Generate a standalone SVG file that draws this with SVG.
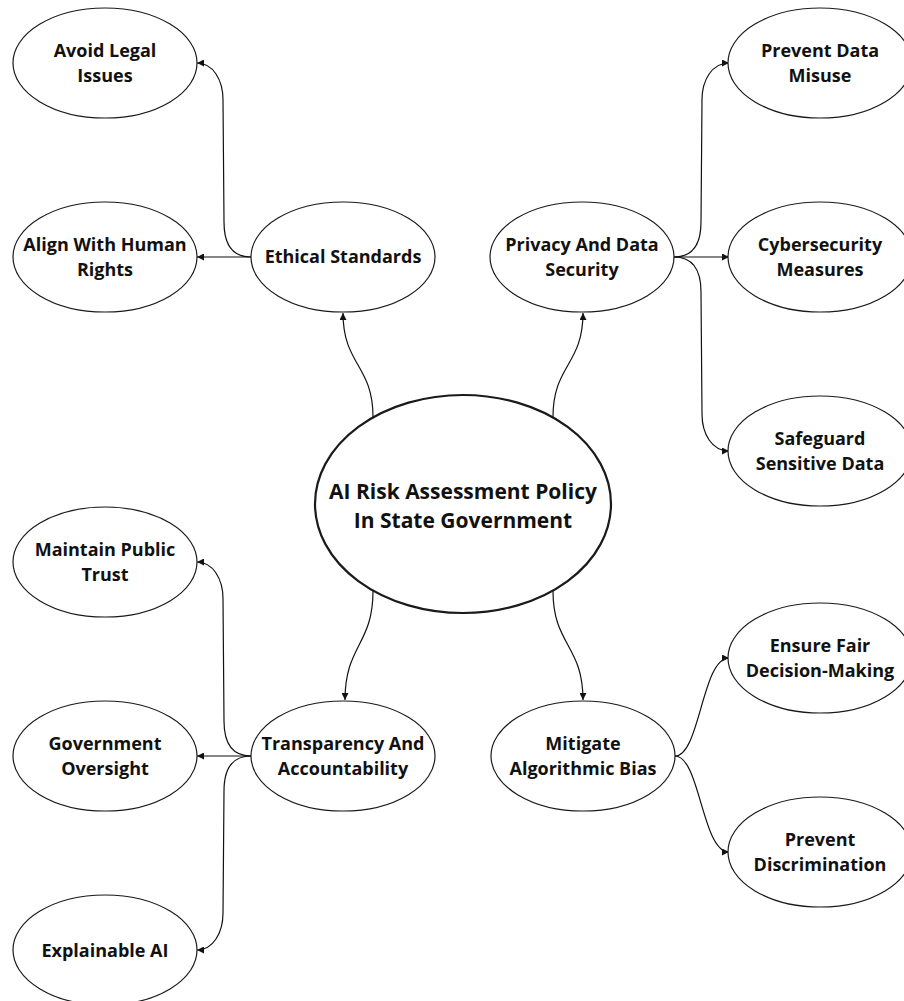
<svg xmlns="http://www.w3.org/2000/svg" width="904" height="1001" viewBox="0 0 904 1001">
<style>
.bg{fill:#ffffff}
.node ellipse{fill:#ffffff;stroke:#1a1a1a;stroke-width:1.2}
.node.main ellipse{stroke-width:2.2}
.node text{font-family:"Open Sans","Noto Sans","Liberation Sans",sans-serif;font-weight:bold;font-size:18px;fill:#111;text-anchor:middle}
.node.main text{font-size:21px}
.edges path{fill:none;stroke:#111;stroke-width:1.2;marker-end:url(#arr)}
</style>
<defs>
<marker id="arr" viewBox="0 0 10 10" refX="10" refY="5" markerWidth="9" markerHeight="7" markerUnits="userSpaceOnUse" orient="auto">
<path d="M0,0 L10,5 L0,10 z" fill="#111"/>
</marker>
</defs>
<rect class="bg" x="0" y="0" width="904" height="1001"/>
<g class="edges" id="edges">
<path d="M373,417 C373,365 343,365 343,313"/>
<path d="M553,417 C553,365 583,365 583,313"/>
<path d="M373,591 C373,645 345,645 345,700"/>
<path d="M553,591 C553,645 583,645 583,700"/>
<path d="M251,257 L197,257"/>
<path d="M251,257 C234,257 224,247 224,222 L223,100 C223,80 213,63 197,63"/>
<path d="M674,257 L729,257"/>
<path d="M674,257 C691,257 701,247 701,222 L702,100 C702,80 712,63 729,63"/>
<path d="M674,257 C691,257 701,267 701,292 L702,414 C702,434 712,451 729,451"/>
<path d="M251,756 L197,756"/>
<path d="M251,756 C234,756 224,746 224,721 L223,599 C223,579 213,562 197,562"/>
<path d="M251,756 C234,756 224,766 224,791 L223,913 C223,933 213,950 197,950"/>
<path d="M675,756 C700,756 702,658 729,658"/>
<path d="M675,756 C700,756 702,852 729,852"/>
</g>
<g class="node main" id="n-central">
<ellipse cx="463" cy="504" rx="148" ry="109"/>
<text x="463" y="499">AI Risk Assessment Policy<tspan x="463" dy="29">In State Government</tspan></text>
</g>
<g class="node" id="n-ethical">
<ellipse cx="343" cy="257" rx="92" ry="55"/>
<text x="343" y="263">Ethical Standards</text>
</g>
<g class="node" id="n-avoid">
<ellipse cx="105" cy="63" rx="92" ry="55"/>
<text x="105" y="57">Avoid Legal<tspan x="105" dy="24.6">Issues</tspan></text>
</g>
<g class="node" id="n-align">
<ellipse cx="105" cy="257" rx="92" ry="55"/>
<text x="105" y="251">Align With Human<tspan x="105" dy="24.6">Rights</tspan></text>
</g>
<g class="node" id="n-privacy">
<ellipse cx="582" cy="257" rx="92" ry="55"/>
<text x="582" y="251">Privacy And Data<tspan x="582" dy="24.6">Security</tspan></text>
</g>
<g class="node" id="n-misuse">
<ellipse cx="820" cy="63" rx="92" ry="55"/>
<text x="820" y="57">Prevent Data<tspan x="820" dy="24.6">Misuse</tspan></text>
</g>
<g class="node" id="n-cyber">
<ellipse cx="820" cy="257" rx="92" ry="55"/>
<text x="820" y="251">Cybersecurity<tspan x="820" dy="24.6">Measures</tspan></text>
</g>
<g class="node" id="n-safeguard">
<ellipse cx="820" cy="451" rx="92" ry="55"/>
<text x="820" y="445">Safeguard<tspan x="820" dy="24.6">Sensitive Data</tspan></text>
</g>
<g class="node" id="n-transparency">
<ellipse cx="343" cy="756" rx="92" ry="55"/>
<text x="343" y="750">Transparency And<tspan x="343" dy="24.6">Accountability</tspan></text>
</g>
<g class="node" id="n-trust">
<ellipse cx="105" cy="562" rx="92" ry="55"/>
<text x="105" y="556">Maintain Public<tspan x="105" dy="24.6">Trust</tspan></text>
</g>
<g class="node" id="n-oversight">
<ellipse cx="105" cy="756" rx="92" ry="55"/>
<text x="105" y="750">Government<tspan x="105" dy="24.6">Oversight</tspan></text>
</g>
<g class="node" id="n-explainable">
<ellipse cx="105" cy="950" rx="92" ry="55"/>
<text x="105" y="957">Explainable AI</text>
</g>
<g class="node" id="n-bias">
<ellipse cx="583" cy="756" rx="92" ry="55"/>
<text x="583" y="750">Mitigate<tspan x="583" dy="24.6">Algorithmic Bias</tspan></text>
</g>
<g class="node" id="n-fair">
<ellipse cx="820" cy="658" rx="92" ry="55"/>
<text x="820" y="652">Ensure Fair<tspan x="820" dy="24.6">Decision-Making</tspan></text>
</g>
<g class="node" id="n-discrimination">
<ellipse cx="820" cy="852" rx="92" ry="55"/>
<text x="820" y="846">Prevent<tspan x="820" dy="24.6">Discrimination</tspan></text>
</g>
</svg>
